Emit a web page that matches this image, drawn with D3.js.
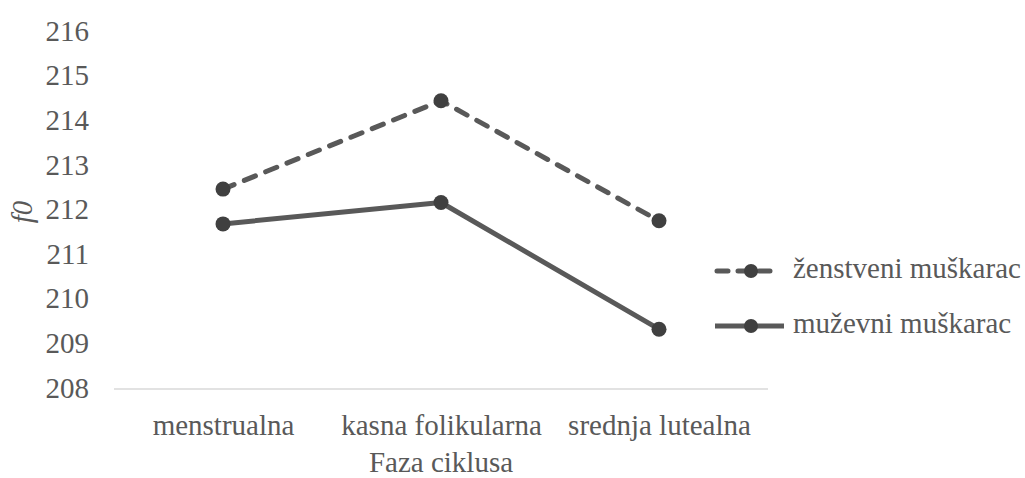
<!DOCTYPE html>
<html>
<head>
<meta charset="utf-8">
<script src="https://cdn.jsdelivr.net/npm/d3@7"></script>
<style>
  html, body { margin: 0; padding: 0; background: #fff; }
  svg text { font-family: 'Liberation Serif', 'DejaVu Serif', 'Times New Roman', Times, serif; fill: #595959; }
</style>
</head>
<body>
<svg id="chart" width="1025" height="478"></svg>
<script>
// f0 by cycle phase, two voice types
const categories = ["menstrualna", "kasna folikularna", "srednja lutealna"];
const zenstveni = [212.48, 214.46, 211.77];
const muzevni = [211.70, 212.18, 209.34];
const yTicks = [208, 209, 210, 211, 212, 213, 214, 215, 216];
const seriesNames = ["ženstveni muškarac", "muževni muškarac"];

const FONT = "'Liberation Serif', 'DejaVu Serif', 'Times New Roman', Times, serif";
const FS = "29px";
const svg = d3.select("#chart");
const plot = { left: 114, right: 768, top: 32, bottom: 389 };

const x = d3.scalePoint()
  .domain(categories)
  .range([plot.left, plot.right])
  .padding(0.5);

const y = d3.scaleLinear()
  .domain([208, 216])
  .range([plot.bottom, plot.top]);

// horizontal baseline
svg.append("line")
  .attr("x1", plot.left).attr("x2", plot.right)
  .attr("y1", y(208)).attr("y2", y(208))
  .attr("stroke", "#d9d9d9").attr("stroke-width", 1.3);

// y axis labels
const yAxis = d3.axisLeft(y).tickValues(yTicks).tickSize(0).tickPadding(0);
const gy = svg.append("g").attr("transform", `translate(89,0)`).call(yAxis);
gy.attr("font-family", null).attr("font-size", null);
gy.select(".domain").remove();
gy.selectAll("text")
  .attr("dy", "0.28em")
  .style("font-family", FONT)
  .style("font-size", FS).style("fill", "#595959");

// x axis labels
const xAxis = d3.axisBottom(x).tickSize(0).tickPadding(0);
const gx = svg.append("g").attr("transform", `translate(0,${plot.bottom + 25})`).call(xAxis);
gx.attr("font-family", null).attr("font-size", null);
gx.select(".domain").remove();
gx.selectAll("text")
  .style("font-family", FONT)
  .style("font-size", FS).style("fill", "#595959");

// axis titles
svg.append("text")
  .attr("x", (plot.left + plot.right) / 2).attr("y", 472)
  .attr("text-anchor", "middle")
  .style("font-family", FONT).style("font-size", FS)
  .text("Faza ciklusa");

svg.append("text")
  .attr("transform", `translate(32,212) rotate(-90)`)
  .attr("text-anchor", "middle")
  .style("font-family", FONT).style("font-size", FS)
  .style("font-style", "italic")
  .text("f0");

const lineColor = "#595959";
const markerColor = "#404040";
const dash = "12,11";

const line = d3.line()
  .x((d, i) => x(categories[i]))
  .y(d => y(d));

const series = [
  { name: seriesNames[0], values: zenstveni, dash: dash },
  { name: seriesNames[1], values: muzevni, dash: null }
];

series.forEach(s => {
  svg.append("path")
    .datum(s.values)
    .attr("d", line)
    .attr("fill", "none")
    .attr("stroke", lineColor)
    .attr("stroke-width", 5)
    .attr("stroke-linecap", "round")
    .attr("stroke-linejoin", "round")
    .attr("stroke-dasharray", s.dash);
  svg.selectAll(null)
    .data(s.values)
    .enter().append("circle")
    .attr("cx", (d, i) => x(categories[i]))
    .attr("cy", d => y(d))
    .attr("r", 7.5)
    .attr("fill", markerColor);
});

// legend
const legendY = [271, 326];
series.forEach((s, i) => {
  const g = svg.append("g").attr("transform", `translate(0,${legendY[i]})`);
  if (s.dash) {
    g.append("line").attr("x1", 717).attr("x2", 780).attr("y1", 0).attr("y2", 0)
      .attr("stroke", lineColor).attr("stroke-width", 5)
      .attr("stroke-linecap", "round").attr("stroke-dasharray", "11,10");
  } else {
    g.append("line").attr("x1", 715).attr("x2", 784).attr("y1", 0).attr("y2", 0)
      .attr("stroke", lineColor).attr("stroke-width", 5);
  }
  g.append("circle").attr("cx", 751).attr("cy", 0).attr("r", 7).attr("fill", markerColor);
  g.append("text").attr("x", 793).attr("y", 0).attr("dy", "0.24em")
    .style("font-family", FONT).style("font-size", FS).text(s.name);
});
</script>
</body>
</html>
